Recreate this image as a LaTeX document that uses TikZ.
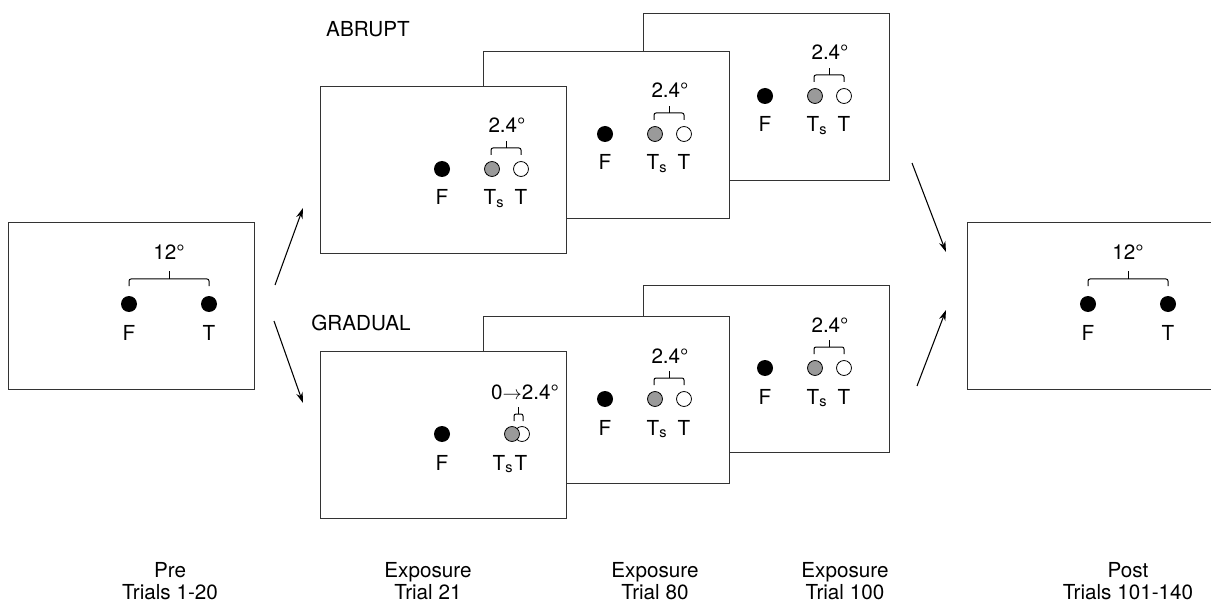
\documentclass[tikz,border=0pt]{standalone}
\usepackage{fontspec}
\setmainfont{TeX Gyre Heros}
\usepackage{tikz}
\usetikzlibrary{arrows.meta,positioning,calc}
\definecolor{TsGrey}{HTML}{9A9A9A}
\definecolor{FrameGrey}{HTML}{333333}
\newcommand{\figfont}{\fontsize{15.5}{18}\selectfont}

\tikzset{
  panel/.style={draw=FrameGrey,line width=0.9pt,fill=white,anchor=north west,
    inner sep=0pt,minimum width=184.5pt,minimum height=125.25pt},
  lbl/.style={font=\figfont,inner sep=0pt,anchor=base},
  shiftdot/.style={fill=TsGrey,draw=black,line width=0.6pt},
  targdot/.style={fill=white,draw=black,line width=0.6pt},
  brace/.style={line width=0.75pt,rounded corners=1.5pt},
  move/.style={-{Stealth[length=8pt,width=5pt]},line width=0.8pt},
}

% pre / post display: F and T 12 deg apart
\newcommand{\wideview}[1]{%
  \node[panel] (#1) at (0,0) {};
  \node[lbl] (#1-deg) at (161,37) {12°};
  \draw[brace] (121,64) -- (121,57) -- (201,57) -- (201,64);
  \draw[brace] (161,57) -- (161,49);
  \fill (121,82) circle (6pt);
  \fill (201,82) circle (6pt);
  \node[lbl] (#1-f) at (121,118) {F};
  \node[lbl] (#1-t) at (201,118) {T};
}
% exposure display: full 2.4 deg shift
\newcommand{\shiftview}[1]{%
  \node[panel] (#1) at (0,0) {};
  \node[lbl] (#1-deg) at (187,47) {2.4°};
  \draw[brace] (171,69) -- (171,62) -- (201,62) -- (201,69);
  \draw[brace] (186,62) -- (186,55);
  \fill (122,83) circle (6pt);
  \draw[shiftdot] (172,83) circle (5.6pt);
  \draw[targdot] (201,83) circle (5.6pt);
  \node[lbl] (#1-f) at (122,119) {F};
  \node[lbl] (#1-ts) at (174,119) {T\textsubscript{s}};
  \node[lbl] (#1-t) at (201,119) {T};
}
% gradual first exposure trial
\newcommand{\rampview}[1]{%
  \node[panel] (#1) at (0,0) {};
  \node[lbl] (#1-deg) at (205,48) {0$\rightarrow$2.4°};
  \draw[brace] (194,70) -- (194,63) -- (203,63) -- (203,70);
  \draw[brace] (198.5,63) -- (198.5,56);
  \fill (122,83) circle (6pt);
  \draw[targdot] (202,83) circle (5.6pt);
  \draw[shiftdot] (192,83) circle (5.6pt);
  \node[lbl] (#1-f) at (122,119) {F};
  \node[lbl] (#1-ts) at (183,119) {T\textsubscript{s}};
  \node[lbl] (#1-t) at (201,119) {T};
}

\begin{document}
\begin{tikzpicture}[x=0.75pt,y=-0.75pt]
  \useasboundingbox (0,0) rectangle (1211,606);

  % pre and post
  \begin{scope}[shift={(8,222)}] \wideview{pre} \end{scope}
  \begin{scope}[shift={(967,222)}] \wideview{post} \end{scope}

  % abrupt stack, back to front
  \begin{scope}[shift={(643,13)}] \shiftview{abr100} \end{scope}
  \begin{scope}[shift={(483,51)}] \shiftview{abr80} \end{scope}
  \begin{scope}[shift={(320,86)}] \shiftview{abr21} \end{scope}

  % gradual stack, back to front
  \begin{scope}[shift={(643,285)}] \shiftview{grd100} \end{scope}
  \begin{scope}[shift={(483,316)}] \shiftview{grd80} \end{scope}
  \begin{scope}[shift={(320,351)}] \rampview{grd21} \end{scope}

  \node[lbl] (abrupt) at (368,37) {ABRUPT};
  \node[lbl] (gradual) at (361,330) {GRADUAL};

  % arrows
  \coordinate (upS) at (275,285);
  \coordinate (upE) at (303,208);
  \coordinate (dnS) at (274,321);
  \coordinate (dnE) at (303,403);
  \coordinate (inS) at (912,163);
  \coordinate (inE) at (946,252);
  \coordinate (rsS) at (917,386);
  \coordinate (rsE) at (946,310);
  \draw[move] (upS) -- (upE);
  \draw[move] (dnS) -- (dnE);
  \draw[move] (inS) -- (inE);
  \draw[move] (rsS) -- (rsE);

  % phase labels
  \foreach \x/\stage/\trials/\nm in {170/Pre/Trials 1-20/pre,
      428/Exposure/Trial 21/e21, 655/Exposure/Trial 80/e80,
      845/Exposure/Trial 100/e100, 1128/Post/Trials 101-140/post}{
    \node[lbl] (stage-\nm) at (\x,577) {\stage};
    \node[lbl] (trials-\nm) at (\x,599) {\trials};
  }
\end{tikzpicture}
\end{document}
